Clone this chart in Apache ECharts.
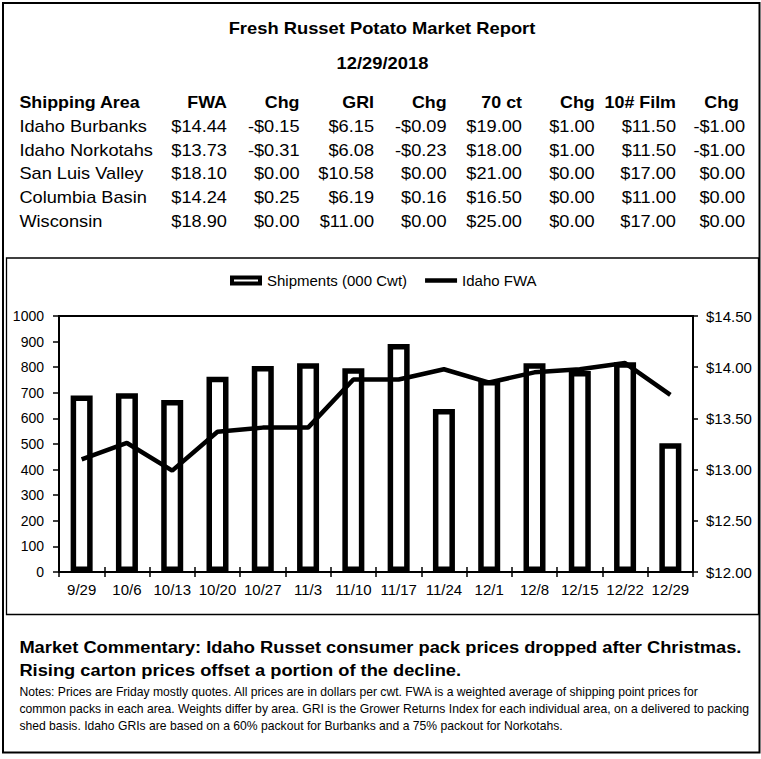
<!DOCTYPE html>
<html><head><meta charset="utf-8">
<script src="https://cdn.jsdelivr.net/npm/echarts@6/dist/echarts.min.js"></script>
<style>html,body{margin:0;padding:0;background:#fff}#c{width:761px;height:759px}</style>
</head><body><div id="c"></div>
<script>
// ---- data ----
const categories = ['9/29','10/6','10/13','10/20','10/27','11/3','11/10','11/17','11/24','12/1','12/8','12/15','12/22','12/29'];
const shipments = [689, 698, 672, 763, 805, 815, 796, 891, 637, 750, 815, 785, 819, 503];
const idahoFWA = [13.10, 13.26, 12.99, 13.37, 13.41, 13.41, 13.88, 13.88, 13.98, 13.85, 13.95, 13.98, 14.04, 13.73];
const leftTicks = [0, 1000, 100];
const rightTicks = [12, 14.5, 0.5];

const reportTitle = 'Fresh Russet Potato Market Report';
const reportDate = '12/29/2018';
const tableHeaders = ['Shipping Area','FWA','Chg','GRI','Chg','70 ct','Chg','10# Film','Chg'];
const shippingAreas = ['Idaho Burbanks','Idaho Norkotahs','San Luis Valley','Columbia Basin','Wisconsin'];
const fwa = [14.44, 13.73, 18.10, 14.24, 18.90];
const fwaChg = [-0.15, -0.31, 0.00, 0.25, 0.00];
const gri = [6.15, 6.08, 10.58, 6.19, 11.00];
const griChg = [-0.09, -0.23, 0.00, 0.16, 0.00];
const ct70 = [19.00, 18.00, 21.00, 16.50, 25.00];
const ct70Chg = [1.00, 1.00, 0.00, 0.00, 0.00];
const film10 = [11.50, 11.50, 17.00, 11.00, 17.00];
const film10Chg = [-1.00, -1.00, 0.00, 0.00, 0.00];
const commentary = ['Market Commentary: Idaho Russet consumer pack prices dropped after Christmas.',
  'Rising carton prices offset a portion of the decline.'];
const notes = ['Notes: Prices are Friday mostly quotes. All prices are in dollars per cwt. FWA is a weighted average of shipping point prices for',
  'common packs in each area. Weights differ by area. GRI is the Grower Returns Index for each individual area, on a delivered to packing',
  'shed basis. Idaho GRIs are based on a 60% packout for Burbanks and a 75% packout for Norkotahs.'];

// ---- layout / styles ----
const FONT = '"Liberation Sans", Arial, Helvetica, sans-serif';
const ctx = document.createElement('canvas').getContext('2d');
function measure(text, font) { ctx.font = font; return ctx.measureText(text).width; }
function money(v) { return (v < 0 ? '-$' : '$') + Math.abs(v).toFixed(2); }

const fTitle = 'bold 16px ' + FONT;
const fHead = 'bold 16px ' + FONT;
const fCell = '16px ' + FONT;
const fComm = 'bold 17px ' + FONT;
const fNote = '12px ' + FONT;

const sTitle = 307 / measure(reportTitle, fTitle);
const sHead = 121 / measure('Shipping Area', fHead);
const sCell = 133.6 / measure('Idaho Norkotahs', fCell);
const sComm = 723 / measure(commentary[0], fComm);
const sNote = 731 / measure(notes[1], fNote);

const graphic = [];
function txt(text, x, y, font, align, scale) {
  graphic.push({ type: 'text', x: x, y: y, scaleX: scale, silent: true,
    style: { text: text, font: font, fill: '#000', textAlign: align, textVerticalAlign: 'middle' } });
}
graphic.push({ type: 'rect', shape: { x: 3, y: 3, width: 756.5, height: 749.5 },
  style: { fill: 'none', stroke: '#000', lineWidth: 2 }, silent: true });
graphic.push({ type: 'rect', shape: { x: 6.5, y: 258, width: 752, height: 356.5 },
  style: { fill: 'none', stroke: '#000', lineWidth: 1.3 }, silent: true });

txt(reportTitle, 382, 28, fTitle, 'center', sTitle);
txt(reportDate, 382.5, 63, fTitle, 'center', sTitle);

const colRight = [227, 299.5, 374, 446.6, 522, 594.7, 676, 745];
const headRight = [227, 299.5, 374, 446.6, 522, 594.7, 676, 739];
const rowY = [126.5, 150, 173.5, 197, 221];
txt(tableHeaders[0], 19.4, 103, fHead, 'left', sHead);
for (let i = 1; i < tableHeaders.length; i++) txt(tableHeaders[i], headRight[i - 1], 103, fHead, 'right', sHead);
const cols = [fwa, fwaChg, gri, griChg, ct70, ct70Chg, film10, film10Chg];
shippingAreas.forEach((a, r) => {
  txt(a, 19.4, rowY[r], fCell, 'left', sCell);
  cols.forEach((c, k) => txt(money(c[r]), colRight[k], rowY[r], fCell, 'right', sCell));
});
txt(commentary[0], 19.4, 647, fComm, 'left', sComm);
txt(commentary[1], 19.4, 670, fComm, 'left', sComm);
txt(notes[0], 19.4, 692, fNote, 'left', sNote);
txt(notes[1], 19.4, 709, fNote, 'left', sNote);
txt(notes[2], 19.4, 726, fNote, 'left', sNote);

const chart = echarts.init(document.getElementById('c'), null, { renderer: 'svg', width: 761, height: 759 });
const black = '#000';
chart.setOption({
  animation: false,
  backgroundColor: '#fff',
  textStyle: { fontFamily: FONT, color: black },
  grid: { left: 59, right: 68, top: 316, bottom: 187, show: true, borderColor: black, borderWidth: 2,
    backgroundColor: 'transparent', containLabel: false, outerBoundsMode: 'none' },
  legend: {
    left: 225, top: 268, padding: 5, itemWidth: 32, itemHeight: 10, itemGap: 18,
    textStyle: { fontFamily: FONT, fontSize: 15, color: black },
    data: [
      { name: 'Shipments (000 Cwt)', icon: 'path://M0,0L32,0L32,10L0,10Z M4,4L4,6L28,6L28,4Z',
        itemStyle: { color: black, borderWidth: 0 } },
      { name: 'Idaho FWA', icon: 'path://M0,0L0,0 M0,2.75L32,2.75L32,7.25L0,7.25Z M32,10L32,10',
        itemStyle: { color: black, borderWidth: 0 }, lineStyle: { width: 0 } }
    ]
  },
  xAxis: [
    { type: 'category', data: categories, position: 'bottom',
      axisLine: { show: true, lineStyle: { color: black, width: 2 } },
      axisTick: { show: true, length: 5, lineStyle: { color: black, width: 1.5 } },
      axisLabel: { color: black, fontSize: 15, fontFamily: FONT, margin: 10, interval: 0 },
      splitLine: { show: false } },
    { type: 'category', data: categories, position: 'bottom', offset: 0,
      axisLine: { show: false },
      axisTick: { show: true, inside: true, length: 5, lineStyle: { color: black, width: 1.5 } },
      axisLabel: { show: false }, splitLine: { show: false } }
  ],
  yAxis: [
    { type: 'value', position: 'left', min: leftTicks[0], max: leftTicks[1], interval: leftTicks[2],
      axisLine: { show: true, lineStyle: { color: black, width: 2 } },
      axisTick: { show: true, length: 6, lineStyle: { color: black, width: 1.5 } },
      axisLabel: { color: black, fontSize: 14, fontFamily: FONT, margin: 15, formatter: v => String(v) },
      splitLine: { show: false } },
    { type: 'value', position: 'right', min: rightTicks[0], max: rightTicks[1], interval: rightTicks[2],
      axisLine: { show: true, lineStyle: { color: black, width: 2 } },
      axisTick: { show: true, length: 5, lineStyle: { color: black, width: 1.5 } },
      axisLabel: { color: black, fontSize: 15, fontFamily: FONT, margin: 13, formatter: v => '$' + v.toFixed(2) },
      splitLine: { show: false } }
  ],
  series: [
    { type: 'bar', name: 'Shipments (000 Cwt)', data: shipments, xAxisIndex: 0, yAxisIndex: 0, barWidth: 22,
      itemStyle: { color: '#fff', borderColor: black, borderWidth: 5.5 }, z: 2 },
    { type: 'line', name: 'Idaho FWA', data: idahoFWA, xAxisIndex: 0, yAxisIndex: 1, symbol: 'none', showSymbol: false,
      lineStyle: { color: black, width: 4.5 }, itemStyle: { color: black }, z: 3 }
  ],
  graphic: graphic
});
</script>
</body></html>
